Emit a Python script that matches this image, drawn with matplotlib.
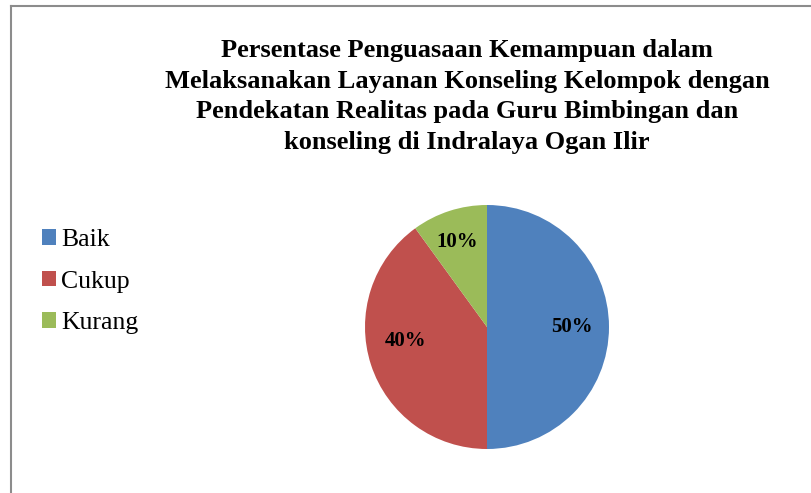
import matplotlib.pyplot as plt
from matplotlib.patches import Patch
from matplotlib.lines import Line2D

# data
labels = ['Baik', 'Cukup', 'Kurang']
values = [50, 40, 10]
colors = ['#4F81BD', '#C0504D', '#9BBB59']
title = ('Persentase Penguasaan Kemampuan dalam\n'
         'Melaksanakan Layanan Konseling Kelompok dengan\n'
         'Pendekatan Realitas pada Guru Bimbingan dan\n'
         'konseling di Indralaya Ogan Ilir')

plt.rcParams['font.family'] = 'Liberation Serif'

W, H = 811, 493
fig = plt.figure(figsize=(W/100, H/100), dpi=100)

# chart border (cut off at right and bottom)
fig.add_artist(Line2D([11/W, 1], [1-6/H, 1-6/H], color='#8c8c8c', lw=1.5))
fig.add_artist(Line2D([11/W, 11/W], [0, 1-6/H], color='#8c8c8c', lw=1.5))

# pie: centre (487, 327), radius 122 px
cx, cy, r = 487, 327, 122
ax = fig.add_axes([(cx-r)/W, (H-cy-r)/H, 2*r/W, 2*r/H])
wedges, texts, pcts = ax.pie(values, colors=colors, startangle=90, counterclock=False,
                             autopct='%d%%', pctdistance=0.7,
                             wedgeprops=dict(linewidth=0),
                             textprops=dict(fontsize=15, fontweight='bold'))
ax.set_xlim(-1, 1)
ax.set_ylim(-1, 1)
ax.set_aspect('equal')
pcts[2].set_position((pcts[2].get_position()[0] - 0.03, pcts[2].get_position()[1] + 0.03))
pcts[1].set_position((pcts[1].get_position()[0], pcts[1].get_position()[1] + 0.1))

fig.text(467/W, 1-39/H, title, ha='center', va='top', fontsize=19,
         fontweight='bold', linespacing=1.42)

handles = [Patch(facecolor=c, edgecolor='none') for c in colors]
fig.legend(handles, labels, loc='upper left', bbox_to_anchor=(42/W, 1-229/H),
           frameon=False, fontsize=18.5, handlelength=0.55, handleheight=0.55,
           handletextpad=0.2, labelspacing=0.76, borderpad=0, borderaxespad=0)

fig.savefig('out.png', dpi=100)
